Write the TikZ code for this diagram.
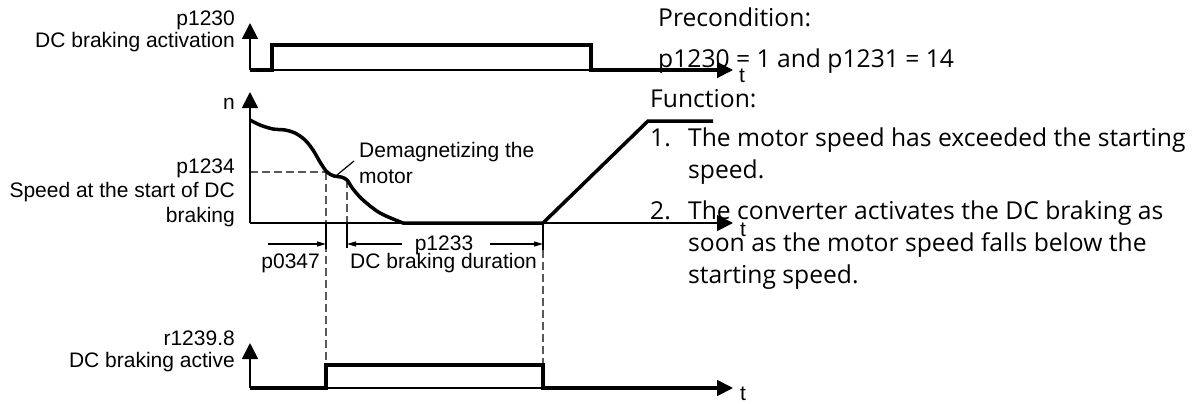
\documentclass[tikz,border=0pt]{standalone}
\usepackage{fontspec}
\setmainfont{Liberation Sans}
\newfontfamily\seg{Open Sans}
\usetikzlibrary{arrows.meta}
\begin{document}
\begin{tikzpicture}[x=1pt,y=-1pt,
  lbl/.style={font=\fontsize{21}{24}\selectfont, inner sep=0pt},
  lblr/.style={lbl, anchor=base east},
  lbll/.style={lbl, anchor=base west},
  rt/.style={font=\seg\fontsize{24.65}{30}\selectfont, inner sep=0pt, anchor=base west},
  axisarrow/.style={line width=1.8pt, -{Triangle[length=16pt,width=16pt]}},
  sig/.style={line width=3.5pt, line join=miter},
  guide/.style={black!65, line width=1.2pt, dash pattern=on 8pt off 4pt},
  tick/.style={line width=1.4pt},
  dim/.style={line width=1.2pt, -{Triangle[length=9pt,width=5pt]}},
]
\useasboundingbox (0,0) rectangle (1197,404);
% ---------- coordinates ----------
\coordinate (A0) at (250,70);  \coordinate (Ay) at (250,23);  \coordinate (Ax) at (733,70);
\coordinate (A1) at (272,70);  \coordinate (A2) at (272,45);  \coordinate (A3) at (591,45);
\coordinate (A4) at (591,70);  \coordinate (A5) at (718,70);
\coordinate (B0) at (250,223); \coordinate (By) at (250,92);  \coordinate (Bx) at (733,223);
\coordinate (Bs) at (326,172); \coordinate (Bh) at (250,172);
\coordinate (Bd) at (347,180);
\coordinate (Br) at (543,223); \coordinate (Bt) at (648,121); \coordinate (Be) at (713,121);
\coordinate (T1) at (326,223); \coordinate (T1b) at (326,249);
\coordinate (T2) at (347,223); \coordinate (T2b) at (347,248);
\coordinate (T3b) at (543,250);
\coordinate (D0) at (268,244); \coordinate (D1) at (326,244);
\coordinate (D2) at (402,244); \coordinate (D3) at (347,244);
\coordinate (D4) at (490,244); \coordinate (D5) at (543,244);
\coordinate (C0) at (250,388); \coordinate (Cy) at (250,343); \coordinate (Cx) at (733,388);
\coordinate (C1) at (326,388); \coordinate (C2) at (326,365); \coordinate (C3) at (543,365);
\coordinate (C4) at (543,388); \coordinate (C5) at (718,388);
\coordinate (L0) at (337,175); \coordinate (L1) at (354,161);
% ---------- top signal ----------
\draw[axisarrow] (A0) -- (Ay);
\draw[axisarrow] (A0) -- (Ax);
\draw[sig] (A0) -- (A1) -- (A2) -- (A3) -- (A4) -- (A5);
\node[lblr] (l1a) at (235,26) {p1230};
\node[lblr] (l1b) at (235,48) {DC braking activation};
\node[lbll] (t1) at (739,82) {t};
% ---------- speed graph ----------
\draw[guide] (Bh) -- (Bs);
\draw[guide] (Bs) -- (C2);
\draw[guide] (Bd) -- (T2);
\draw[guide] (T3b) -- (C3);
\draw[axisarrow] (B0) -- (By);
\draw[axisarrow] (B0) -- (Bx);
\draw[sig] plot[smooth, tension=0.55] coordinates {(250,120) (260,125) (273,129) (285,130) (295,133) (305,140) (313,150) (320,162) (327,172) (334,176) (341,177) (347,180) (353,189) (363,200) (380,213) (403,223)} -- (Br) -- (Bt) -- (Be);
\draw[tick] (T1) -- (T1b);
\draw[tick] (T2) -- (T2b);
\draw[tick] (Br) -- (T3b);
\draw[dim] (D0) -- (D1);
\draw[dim] (D2) -- (D3);
\draw[dim] (D4) -- (D5);
\draw[line width=1.2pt] (L0) -- (L1);
\node[lblr] (ln) at (235,110) {n};
\node[lblr] (l2a) at (235,173) {p1234};
\node[lblr] (l2b) at (235,197) {Speed at the start of DC};
\node[lblr] (l2c) at (235,222) {braking};
\node[lbll] (dm1) at (359,157) {Demagnetizing the};
\node[lbll] (dm2) at (359,183) {motor};
\node[lbl, anchor=base] (p1233) at (444,250) {p1233};
\node[lblr] (p0347) at (320,268) {p0347};
\node[lbll] (dur) at (350,268) {DC braking duration};
\node[lbll] (t2) at (740,236) {t};
% ---------- bottom signal ----------
\draw[axisarrow] (C0) -- (Cy);
\draw[axisarrow] (C0) -- (Cx);
\draw[sig] (C0) -- (C1) -- (C2) -- (C3) -- (C4) -- (C5);
\node[lblr] (l3a) at (235,345) {r1239.8};
\node[lblr] (l3b) at (235,367) {DC braking active};
\node[lbll] (t3) at (740,400) {t};
% ---------- right text ----------
\node[rt] (r1) at (658,27) {Precondition:};
\node[rt] (r2) at (658,67) {p1230 = 1 and p1231 = 14};
\node[rt] (r3) at (650,107) {Function:};
\node[rt] (r4n) at (650,146) {1.};
\node[rt] (r4) at (688,146) {The motor speed has exceeded the starting};
\node[rt] (r5) at (688,178) {speed.};
\node[rt] (r6n) at (650,219) {2.};
\node[rt] (r6) at (688,219) {The converter activates the DC braking as};
\node[rt] (r7) at (688,251) {soon as the motor speed falls below the};
\node[rt] (r8) at (688,283) {starting speed.};
\end{tikzpicture}
\end{document}
